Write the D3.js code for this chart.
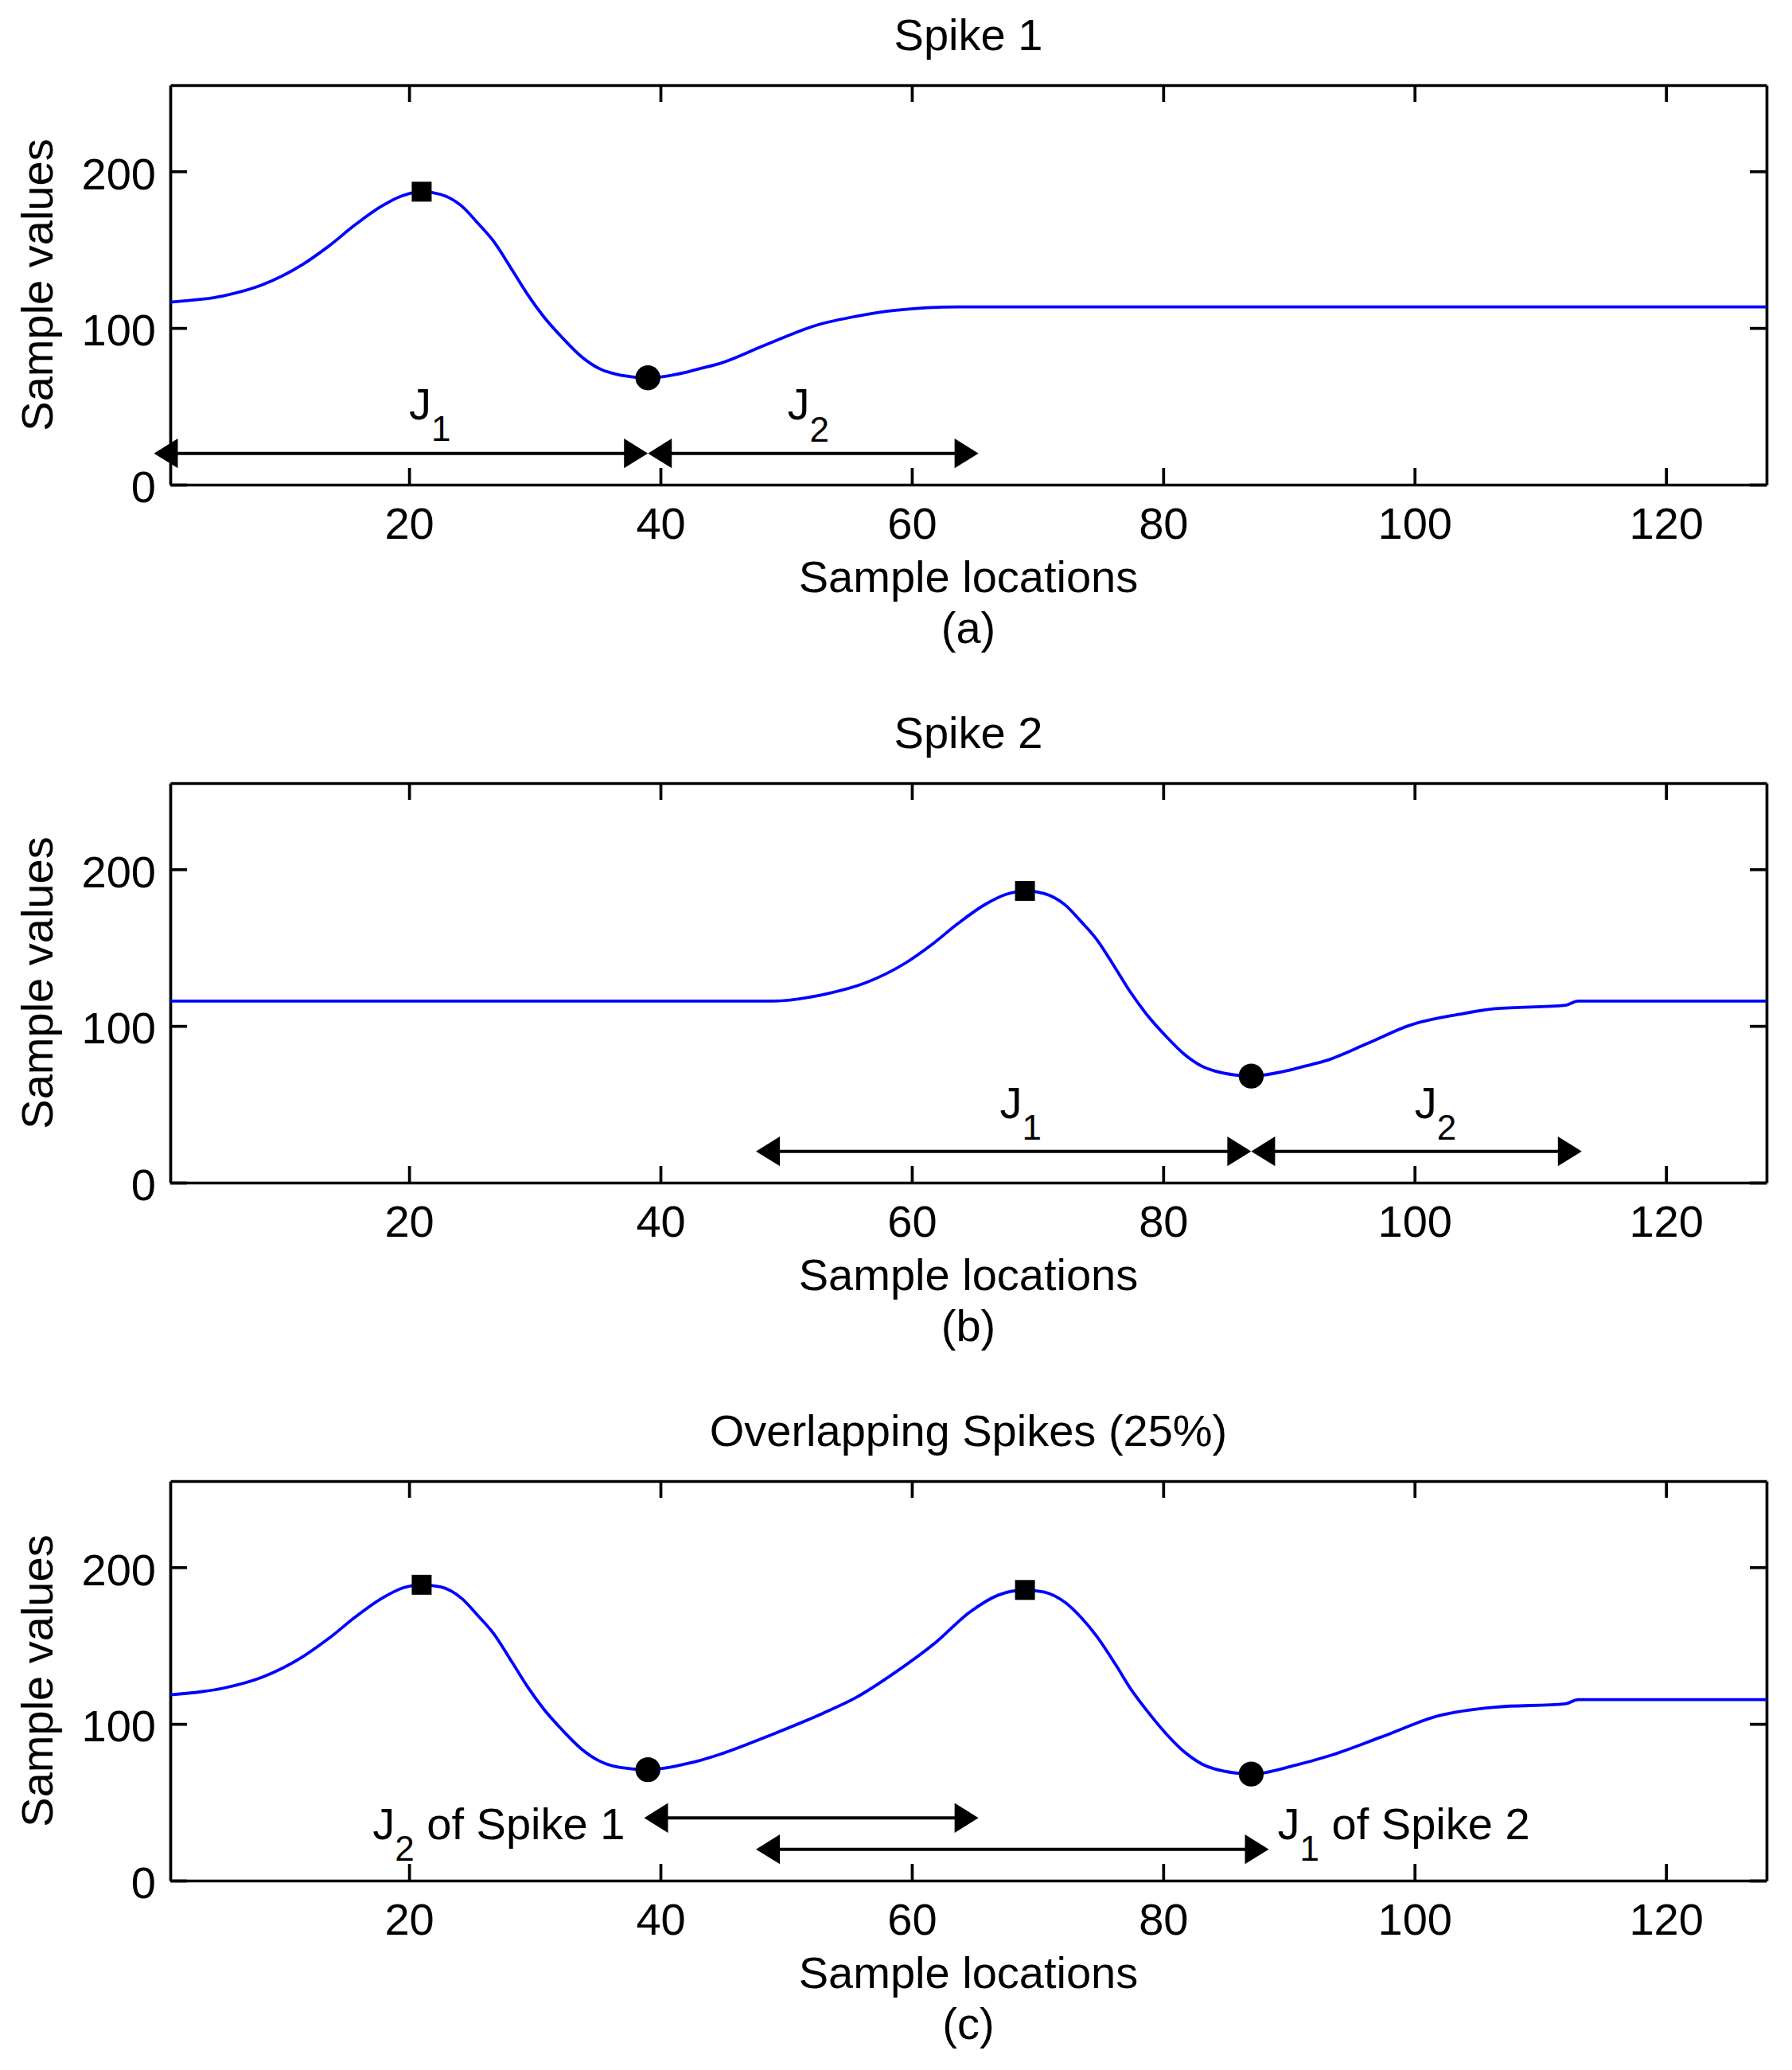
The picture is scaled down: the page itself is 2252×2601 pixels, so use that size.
<!DOCTYPE html>
<html>
<head>
<meta charset="utf-8">
<script src="https://cdn.jsdelivr.net/npm/d3@7"></script>
<style>
  body { margin: 0; background: #fff; }
  svg { display: block; }
  text { font-family: "Liberation Sans", Arial, Helvetica, sans-serif; fill: #000; }
</style>
</head>
<body>
<div id="chart"></div>
<script>
// values (sample location, sample value)
var xTicks = [20, 40, 60, 80, 100, 120];
var yTicks = [0, 100, 200];

var spike1 = [[1,116.5],[5.2,120.5],[8.3,127.5],[11.5,140.4],[13.6,152.2],[15.7,165.8],[17.8,177.7],[19.5,184.5],
              [21,187],[22.5,185.3],[24.2,177.7],[25.4,167.5],[26.7,155.6],[28.2,137],[29.4,121.7],[30.7,107.3],
              [32.2,93.7],[33.7,81.8],[35.1,74.2],[36.8,69.9],[39,68.2],[42,71.7],[43.2,74.2],[44.7,77.3],
              [48.3,89],[52.5,102],[55.6,107.5],[58.7,111.3],[63.7,113.5],[128,113.5]];

var spike2 = [[1,115.9],[49,115.9],[53.2,120.5],[56.3,127.5],[59.5,140.2],[61.6,152],[63.7,165.6],[65.8,177.4],
              [67.5,184],[69,186.2],[70.5,184.6],[72.2,177.2],[73.4,167.2],[74.7,155.3],[76.2,136.8],[77.4,121.5],
              [78.7,107.2],[80.2,93.6],[81.7,81.8],[83.1,74.2],[84.8,69.9],[87,68],[90,71.7],[91.2,74.2],
              [92.8,77.5],[96.3,89],[99.6,100.4],[103.6,107.5],[106.4,111],[112,113.2],[113,115.9],[128,115.9]];

var overlap = [[1,118.6],[5.2,122.8],[8.3,129.8],[11.5,142.7],[13.6,154.5],[15.7,168.1],[17.8,180],[19.5,186.8],
               [21,188.8],[22.5,187.5],[24.2,180],[25.4,169.8],[26.7,157.9],[28.2,139.3],[29.4,124],[30.7,109.6],
               [32.2,96],[33.7,84.1],[35.1,76.5],[36.8,72.2],[39,70.8],[42,74.5],[43.2,76.8],[44.7,80.5],
               [48.8,93],[52.9,106.7],[55.6,117],[58.7,133],[61.9,152],[64.6,171.3],[66.9,182.3],[69,185.5],
               [70.5,184.2],[72.2,177.5],[73.4,168.5],[74.7,156],[76.2,138],[77.4,122.5],[78.7,108.5],[80.2,94],
               [81.7,82],[83.1,74.3],[84.8,69.9],[87,68],[90.5,73.6],[93.2,79.6],[97.3,91.5],[101.9,105.2],
               [106.4,110.7],[112,112.8],[113,115.5],[128,115.5]];

var titles = ["Spike 1", "Spike 2", "Overlapping Spikes (25%)"];
var tags = ["(a)", "(b)", "(c)"];

var peaks   = [[[21,187]], [[69,186.2]], [[21,188.8],[69,185.5]]];
var troughs = [[[39,68.2]], [[87,68]],   [[39,70.8],[87,68]]];

// double headed arrows: [from, to, level]
var arrows = [
  [[-0.3,39,20],[39,65.3,20]],
  [[47.6,87,20],[87,113.3,20]],
  [[38.7,65.3,40],[47.6,88.4,20]]
];

// labels: [x, y, main, subscript, rest]
var labels = [
  [[20,41.6,"J","1",""],[50.1,41.4,"J","2",""]],
  [[67,41.2,"J","1",""],[100,41.2,"J","2",""]],
  [[17.1,26.5,"J","2"," of Spike 1"],[89.1,26.5,"J","1"," of Spike 2"]]
];

var series = [spike1, spike2, overlap];

var W = 2252, H = 2601;
var left = 214, right = 2220, panelH = 502;
var tops = [107, 984, 1861];
var fs = 56, subFs = 44;

var svg = d3.select("#chart").append("svg").attr("width", W).attr("height", H);

var x = d3.scaleLinear().domain([1, 128]).range([left, right]);

var line = d3.line().curve(d3.curveMonotoneX);

function drawPanel(i) {
    var top = tops[i], bottom = top + panelH;
    var y = d3.scaleLinear().domain([0, 255]).range([bottom, top]);
    var g = svg.append("g");

    // ticks on all four sides, pointing inwards
    var axB = g.append("g").attr("transform", "translate(0," + bottom + ")")
        .call(d3.axisBottom(x).tickValues(xTicks).tickSize(-21).tickSizeOuter(0));
    axB.selectAll("text").attr("y", 68).attr("dy", null).attr("font-size", fs);
    g.append("g").attr("transform", "translate(0," + top + ")")
        .call(d3.axisTop(x).tickValues(xTicks).tickSize(-21).tickSizeOuter(0).tickFormat(""));
    var axL = g.append("g").attr("transform", "translate(" + left + ",0)")
        .call(d3.axisLeft(y).tickValues(yTicks).tickSize(-21).tickSizeOuter(0));
    axL.selectAll("text").attr("x", -18).attr("dy", "0.39em").attr("font-size", fs);
    g.append("g").attr("transform", "translate(" + right + ",0)")
        .call(d3.axisRight(y).tickValues(yTicks).tickSize(-21).tickSizeOuter(0).tickFormat(""));
    g.selectAll(".domain, .tick line").attr("stroke", "#000").attr("stroke-width", 3.7);
    g.selectAll(".tick text").attr("font-family", null);

    // signal
    g.append("path")
        .attr("d", line(series[i].map(function(d){ return [x(d[0]), y(d[1])]; })))
        .attr("fill", "none")
        .attr("stroke", "#0000ff")
        .attr("stroke-width", 3.8)
        .attr("stroke-linejoin", "round");

    g.selectAll("rect.peak").data(peaks[i]).enter().append("rect")
        .attr("class", "peak")
        .attr("x", function(d){ return x(d[0]) - 12.5; })
        .attr("y", function(d){ return y(d[1]) - 12.5; })
        .attr("width", 25).attr("height", 25)
        .attr("fill", "#000");

    g.selectAll("circle.trough").data(troughs[i]).enter().append("circle")
        .attr("class", "trough")
        .attr("cx", function(d){ return x(d[0]); })
        .attr("cy", function(d){ return y(d[1]); })
        .attr("r", 15.7)
        .attr("fill", "#000");

    // arrows
    var hl = 30, hw = 18.7;
    var ag = g.selectAll("g.arrow").data(arrows[i]).enter().append("g").attr("class", "arrow");
    ag.append("line")
        .attr("x1", function(d){ return x(d[0]) + hl - 2; })
        .attr("x2", function(d){ return x(d[1]) - hl + 2; })
        .attr("y1", function(d){ return y(d[2]); })
        .attr("y2", function(d){ return y(d[2]); })
        .attr("stroke", "#000").attr("stroke-width", 4);
    ag.append("path")
        .attr("d", function(d){
            var a = x(d[0]), b = x(d[1]), c = y(d[2]);
            return "M" + a + "," + c + "L" + (a + hl) + "," + (c - hw) + "L" + (a + hl) + "," + (c + hw) + "Z" +
                   "M" + b + "," + c + "L" + (b - hl) + "," + (c - hw) + "L" + (b - hl) + "," + (c + hw) + "Z";
        })
        .attr("fill", "#000");

    // J labels with subscripts
    var lt = g.selectAll("text.jlab").data(labels[i]).enter().append("text")
        .attr("class", "jlab")
        .attr("x", function(d){ return x(d[0]); })
        .attr("y", function(d){ return y(d[1]); })
        .attr("font-size", fs);
    lt.append("tspan").text(function(d){ return d[2]; });
    lt.append("tspan").attr("dy", 27.3).attr("font-size", subFs).text(function(d){ return d[3]; });
    lt.append("tspan").attr("dy", -27.3).attr("font-size", fs).text(function(d){ return d[4]; })
        .style("white-space", "pre").attr("xml:space", "preserve");

    var cx = (left + right) / 2;
    g.append("text").attr("x", cx).attr("y", top - 44.5).attr("text-anchor", "middle")
        .attr("font-size", fs).text(titles[i]);
    g.append("text").attr("x", cx).attr("y", bottom + 135).attr("text-anchor", "middle")
        .attr("font-size", fs).text("Sample locations");
    g.append("text").attr("x", cx).attr("y", bottom + 199).attr("text-anchor", "middle")
        .attr("font-size", fs).text(tags[i]);
    g.append("text")
        .attr("transform", "translate(66," + ((top + bottom) / 2) + ") rotate(-90)")
        .attr("text-anchor", "middle")
        .attr("font-size", fs).text("Sample values");
}

[0, 1, 2].forEach(drawPanel);
</script>
</body>
</html>
